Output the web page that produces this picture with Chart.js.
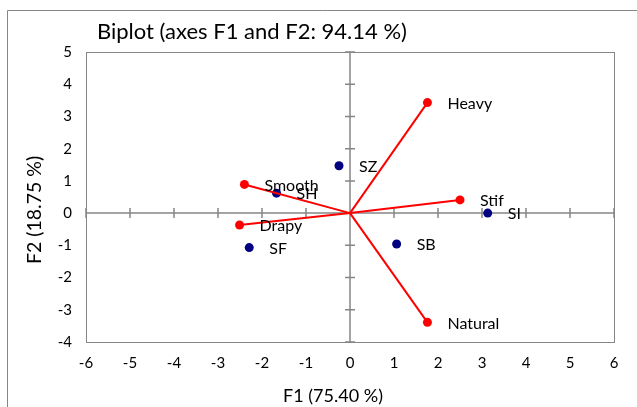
<!DOCTYPE html>
<html>
<head>
<meta charset="utf-8">
<script src="https://cdn.jsdelivr.net/npm/chart.js@4/dist/chart.umd.min.js"></script>
<style>
  html, body { margin: 0; padding: 0; background: #fff; }
  #wrap { width: 637px; height: 407px; position: relative; }
</style>
</head>
<body>
<div id="wrap"><canvas id="c" width="637" height="407"></canvas></div>
<script>
// Variables (loadings, drawn as vectors from the origin)
const variables = ['Heavy', 'Stif', 'Natural', 'Smooth', 'Drapy'];
const varF1 = [1.76, 2.50, 1.76, -2.40, -2.51];
const varF2 = [3.43, 0.41, -3.39, 0.89, -0.37];

// Observations (factor scores)
const observations = ['SZ', 'SH', 'SF', 'SB', 'SI'];
const obsF1 = [-0.25, -1.67, -2.29, 1.06, 3.13];
const obsF2 = [1.47, 0.62, -1.07, -0.96, 0.00];

// Axis ranges and tick steps
const xTicks = [-6, -5, -4, -3, -2, -1, 0, 1, 2, 3, 4, 5, 6];
const yTicks = [-4, -3, -2, -1, 0, 1, 2, 3, 4, 5];

const titleText = 'Biplot (axes F1 and F2: 94.14 %)';
const xTitle = 'F1 (75.40 %)';
const yTitle = 'F2 (18.75 %)';

const FONT = 'Lato, "Open Sans", sans-serif';
const GREY = '#868686';
const RED = '#ff0000';
const NAVY = '#000080';

// one two-point line dataset per variable vector
const vectorSets = variables.map((name, i) => ({
  label: name,
  type: 'scatter',
  data: [{ x: 0, y: 0 }, { x: varF1[i], y: varF2[i] }],
  showLine: true,
  borderColor: RED,
  borderWidth: 2,
  backgroundColor: RED,
  pointRadius: [0, 4.5],
  pointHoverRadius: [0, 4.5],
  pointBorderWidth: 0,
  clip: false
}));

const obsSet = {
  label: 'Observations',
  type: 'scatter',
  data: observations.map((n, i) => ({ x: obsF1[i], y: obsF2[i] })),
  backgroundColor: NAVY,
  borderColor: NAVY,
  pointRadius: 4.5,
  pointBorderWidth: 0,
  clip: false
};

// Frame, zero axes with cross ticks, titles and point labels
const decor = {
  id: 'decor',
  beforeDraw(chart) {
    const ctx = chart.ctx;
    ctx.save();
    ctx.fillStyle = '#fff';
    ctx.fillRect(0, 0, chart.width, chart.height);
    // outer frame
    ctx.strokeStyle = GREY;
    ctx.lineWidth = 1;
    ctx.beginPath();
    ctx.moveTo(7.5, 420);
    ctx.lineTo(7.5, 10.5);
    ctx.lineTo(640, 10.5);
    ctx.stroke();
    ctx.restore();
  },
  beforeDatasetsDraw(chart) {
    const ctx = chart.ctx;
    const a = chart.chartArea;
    const xs = chart.scales.x, ys = chart.scales.y;
    const x0 = xs.getPixelForValue(0), y0 = ys.getPixelForValue(0);
    ctx.save();
    ctx.strokeStyle = GREY;
    ctx.lineWidth = 1;
    ctx.strokeRect(Math.round(a.left) + 0.5, Math.round(a.top) + 0.5,
      Math.round(a.right - a.left), Math.round(a.bottom - a.top));
    ctx.lineWidth = 1.5;
    ctx.beginPath();
    ctx.moveTo(a.left, y0); ctx.lineTo(a.right, y0);
    ctx.moveTo(x0, a.top); ctx.lineTo(x0, a.bottom);
    xTicks.forEach(v => {
      const px = xs.getPixelForValue(v);
      ctx.moveTo(px, y0 - 5); ctx.lineTo(px, y0 + 5);
    });
    yTicks.forEach(v => {
      const py = ys.getPixelForValue(v);
      ctx.moveTo(x0 - 5, py); ctx.lineTo(x0 + 5, py);
    });
    ctx.stroke();
    ctx.restore();
  },
  afterDraw(chart) {
    const ctx = chart.ctx;
    const xs = chart.scales.x, ys = chart.scales.y;
    ctx.save();
    ctx.fillStyle = '#000';
    ctx.textBaseline = 'middle';
    ctx.textAlign = 'left';
    ctx.font = '22px ' + FONT;
    ctx.fillText(titleText, 97, 32);
    ctx.font = '18px ' + FONT;
    ctx.textAlign = 'center';
    ctx.fillText(xTitle, 333, 396);
    ctx.save();
    ctx.translate(35, 210);
    ctx.rotate(-Math.PI / 2);
    ctx.font = '19.5px ' + FONT;
    ctx.fillText(yTitle, 0, 0);
    ctx.restore();
    ctx.textAlign = 'left';
    ctx.font = '16px ' + FONT;
    variables.forEach((n, i) => {
      ctx.fillText(n, xs.getPixelForValue(varF1[i]) + 20, ys.getPixelForValue(varF2[i]) + 1);
    });
    observations.forEach((n, i) => {
      ctx.fillText(n, xs.getPixelForValue(obsF1[i]) + 20, ys.getPixelForValue(obsF2[i]) + 1);
    });
    ctx.restore();
  }
};

new Chart(document.getElementById('c'), {
  type: 'scatter',
  data: { datasets: [...vectorSets, obsSet] },
  options: {
    responsive: false,
    animation: false,
    devicePixelRatio: 1,
    layout: { padding: { left: 0, top: 52, right: 23, bottom: 0 } },
    plugins: { legend: { display: false }, tooltip: { enabled: false }, title: { display: false } },
    scales: {
      x: {
        type: 'linear', min: -6, max: 6,
        border: { display: false },
        grid: { display: false, drawTicks: false },
        ticks: { stepSize: 1, padding: 12, color: '#000', font: { family: FONT, size: 15 } },
        afterFit(s) { s.height = 65; }
      },
      y: {
        type: 'linear', min: -4, max: 5,
        border: { display: false },
        grid: { display: false, drawTicks: false },
        ticks: { stepSize: 1, padding: 14, color: '#000', font: { family: FONT, size: 15 } },
        afterFit(s) { s.width = 86; }
      }
    }
  },
  plugins: [decor]
});
</script>
</body>
</html>
